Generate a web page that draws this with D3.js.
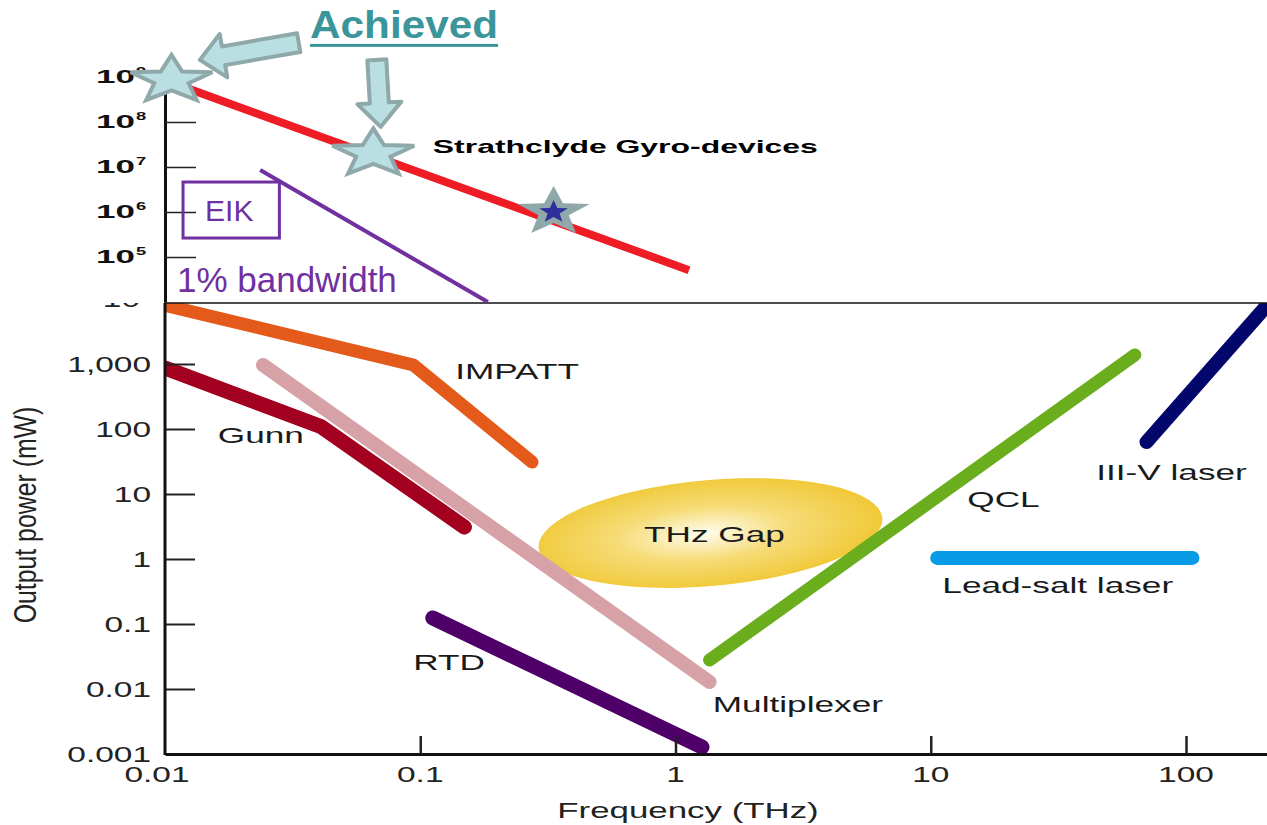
<!DOCTYPE html>
<html>
<head>
<meta charset="utf-8">
<script src="https://cdn.jsdelivr.net/npm/d3@7"></script>
<style>
  body { margin: 0; background: #fff; }
  svg { display: block; }
  text { font-family: "Liberation Sans", Arial, sans-serif; }
</style>
</head>
<body>
<svg id="chart" width="1267" height="825"></svg>
<script>
// ---- lower panel (output power, mW) ----
const xTickValues = [0.01, 0.1, 1, 10, 100];
const xTickLabels = ["0.01", "0.1", "1", "10", "100"];
const yTickValues = [0.001, 0.01, 0.1, 1, 10, 100, 1000, 10000];
const yTickLabels = ["0.001", "0.01", "0.1", "1", "10", "100", "1,000", "10"];
const yTickSups = ["", "", "", "", "", "", "", "4"];

const impatt = [[0.01, 8000], [0.094, 966], [0.274, 31]];
const gunn = [[0.01, 870], [0.041, 108], [0.149, 3.1]];
const multiplexer = [[0.0242, 966], [1.36, 0.0128]];
const rtd = [[0.112, 0.124], [1.27, 0.00128]];
const qcl = [[1.36, 0.0279], [63, 1380]];
const iiiV = [[70, 63], [230, 12600]];
const leadSalt = [[10.6, 1.04], [106, 1.04]];

const thzGapF = [0.289, 6.5];
const thzGapP = [0.358, 17.6];

const deviceLabels = [
  ["IMPATT", 0.137, 590],
  ["Gunn", 0.0161, 61],
  ["QCL", 13.9, 6.3],
  ["III-V laser", 44.5, 16.4],
  ["Lead-salt laser", 11.1, 0.3],
  ["RTD", 0.0938, 0.0196],
  ["Multiplexer", 1.4, 0.00443]
];

// ---- upper panel (gyro-devices) ----
const gyroTickValues = [1e5, 1e6, 1e7, 1e8, 1e9];
const gyroTickExps = ["5", "6", "7", "8", "9"];
const gyroLine = [[0.0107, 7.4e8], [1.13, 5.1e4]];
const eikLine = [[0.0236, 8.6e6], [0.184, 1e4]];
const achieved = [[0.0106, 8.6e8], [0.0655, 2.0e7], [0.333, 1.0e6]];
const achievedArrows = [
  [[0.0334, 5.8e9], [0.0137, 2.4e9]],
  [[0.0676, 2.4e9], [0.070, 7.8e7]]
];

const svg = d3.select("#chart");
const W = 1267, H = 825;
const divY = 303;

const x = d3.scaleLog().domain([0.01, 100]).range([165, 1186]);
const yLow = d3.scaleLog().domain([0.001, 10000]).range([754, 299]);
const yHigh = d3.scaleLog().domain([1e4, 1e9]).range([302, 77]);

const line = (ys) => d3.line().x(d => x(d[0])).y(d => ys(d[1]));

// stretched text helper (the source picture is widened horizontally)
function sText(g, str, px, py, o = {}) {
  return g.append("text")
    .attr("transform", `translate(${px},${py}) scale(${o.sx || 1},${o.sy || 1})`)
    .attr("text-anchor", o.anchor || "start")
    .attr("font-size", o.size || 22)
    .attr("font-weight", o.weight || "normal")
    .attr("fill", o.fill || "#1a1a1a")
    .text(str);
}

svg.append("rect").attr("width", W).attr("height", H).attr("fill", "#fff");

// ---------- lower panel ----------
const low = svg.append("g");
low.append("clipPath").attr("id", "clipLow")
  .append("rect").attr("x", 165).attr("y", divY).attr("width", W - 165).attr("height", 754 - divY);

// THz gap ellipse
const grad = svg.append("defs").append("radialGradient").attr("id", "gapGrad")
  .attr("cx", "48%").attr("cy", "50%").attr("r", "55%");
grad.append("stop").attr("offset", "0%").attr("stop-color", "#fffdf0");
grad.append("stop").attr("offset", "45%").attr("stop-color", "#f6dc78");
grad.append("stop").attr("offset", "100%").attr("stop-color", "#f0c630");

const gx0 = x(thzGapF[0]), gx1 = x(thzGapF[1]);
const gy0 = yLow(thzGapP[1]), gy1 = yLow(thzGapP[0]);
const gcx = (gx0 + gx1) / 2, gcy = (gy0 + gy1) / 2;
low.append("ellipse")
  .attr("cx", gcx).attr("cy", gcy)
  .attr("rx", (gx1 - gx0) / 2).attr("ry", (gy1 - gy0) / 2 - 2)
  .attr("transform", `rotate(-5,${gcx},${gcy})`)
  .attr("fill", "url(#gapGrad)");
sText(low, "THz Gap", gcx + 4, gcy + 9, { anchor: "middle", sx: 1.6 });

const devices = [
  { pts: multiplexer, color: "#d6a1a7", w: 14 },
  { pts: impatt, color: "#e35a1b", w: 13 },
  { pts: gunn, color: "#a3001f", w: 15 },
  { pts: rtd, color: "#4e0068", w: 15 },
  { pts: qcl, color: "#6aad1d", w: 13 },
  { pts: iiiV, color: "#03066a", w: 14 },
  { pts: leadSalt, color: "#0a9be6", w: 14 }
];
low.append("g").attr("clip-path", "url(#clipLow)")
  .selectAll("path").data(devices).join("path")
  .attr("d", d => line(yLow)(d.pts))
  .attr("fill", "none")
  .attr("stroke", d => d.color)
  .attr("stroke-width", d => d.w)
  .attr("stroke-linecap", "round")
  .attr("stroke-linejoin", "round");

deviceLabels.forEach(([t, f, p]) => sText(low, t, x(f), yLow(p), { sx: 1.6 }));

// axes
const yAxisG = low.append("g").attr("transform", "translate(165,0)")
  .call(d3.axisRight(yLow).tickValues(yTickValues.slice(1, 7)).tickSize(30).tickSizeOuter(0).tickFormat(""));
yAxisG.select(".domain").remove();
yAxisG.selectAll("line").attr("stroke", "#222").attr("stroke-width", 2);
low.append("line").attr("x1", 165).attr("x2", 165).attr("y1", divY).attr("y2", 755)
  .attr("stroke", "#111").attr("stroke-width", 3);

yTickValues.forEach((v, i) => {
  const t = sText(low, yTickLabels[i], 151, yLow(v) + 8, { anchor: "end", sx: 1.52, fill: "#222" });
  if (yTickSups[i]) t.append("tspan").attr("font-size", 13).attr("dy", -9).text(yTickSups[i]);
});

const xAxisScale = x.copy().domain([0.01, x.invert(W)]).range([165, W]);
const xAxisG = low.append("g").attr("transform", "translate(0,754)")
  .call(d3.axisTop(xAxisScale).tickValues(xTickValues.slice(1)).tickSize(18).tickSizeOuter(0).tickFormat(""));
xAxisG.select(".domain").attr("stroke", "#111").attr("stroke-width", 3);
xAxisG.selectAll("line").attr("stroke", "#222").attr("stroke-width", 2.5);

xTickValues.forEach((v, i) => sText(low, xTickLabels[i], x(v) - (i === 0 ? 8 : 0), 782,
  { anchor: "middle", sx: 1.52, fill: "#222" }));

sText(low, "Frequency (THz)", 688, 818, { anchor: "middle", sx: 1.55, size: 22.5, fill: "#222" });
low.append("text")
  .attr("transform", "translate(36,515) rotate(-90) scale(1.08,1.4)")
  .attr("text-anchor", "middle").attr("font-size", 23).attr("fill", "#222")
  .text("Output power (mW)");

// ---------- upper panel ----------
const up = svg.append("g");
up.append("rect").attr("width", W).attr("height", divY).attr("fill", "#fff");
up.append("clipPath").attr("id", "clipUp")
  .append("rect").attr("x", 0).attr("y", 0).attr("width", W).attr("height", divY);

up.append("line").attr("x1", 164).attr("x2", W).attr("y1", divY).attr("y2", divY)
  .attr("stroke", "#111").attr("stroke-width", 1.5);

const gAxisG = up.append("g").attr("transform", "translate(165,0)")
  .call(d3.axisRight(yHigh).tickValues(gyroTickValues).tickSize(31).tickSizeOuter(0).tickFormat(""));
gAxisG.select(".domain").attr("stroke", "#111").attr("stroke-width", 3);
gAxisG.selectAll("line").attr("stroke", "#222").attr("stroke-width", 1.5);

gyroTickValues.forEach((v, i) => {
  sText(up, "10", 135, yHigh(v) + 6, { anchor: "end", sx: 2.0, size: 17.5, weight: "bold", fill: "#111" });
  sText(up, gyroTickExps[i], 136, yHigh(v) - 2, { sx: 1.6, size: 11.5, weight: "bold", fill: "#111" });
});

const upPlot = up.append("g").attr("clip-path", "url(#clipUp)");
upPlot.append("path").attr("d", line(yHigh)(eikLine))
  .attr("fill", "none").attr("stroke", "#7030a0").attr("stroke-width", 4);
upPlot.append("path").attr("d", line(yHigh)(gyroLine))
  .attr("fill", "none").attr("stroke", "#ee1c25").attr("stroke-width", 8);

// EIK box and label
const eik = up.append("text")
  .attr("x", x(0.01435)).attr("y", yHigh(6.3e5))
  .attr("font-size", 30).attr("fill", "#7030a0").text("EIK");
const eb = eik.node().getBBox();
up.append("rect")
  .attr("x", eb.x - 22).attr("y", eb.y - 12)
  .attr("width", eb.width + 48).attr("height", eb.height + 23)
  .attr("fill", "none").attr("stroke", "#7030a0").attr("stroke-width", 3);
up.append("text").attr("x", x(0.01114)).attr("y", yHigh(1.67e4))
  .attr("font-size", 35).attr("fill", "#7030a0").text("1% bandwidth");

up.append("text").attr("x", x(0.112)).attr("y", yHigh(2.05e7))
  .attr("font-size", 19).attr("font-weight", "bold").attr("fill", "#000")
  .attr("textLength", 385).attr("lengthAdjust", "spacingAndGlyphs")
  .text("Strathclyde Gyro-devices");

// stars
function starPath(rx, ry, k) {
  const pts = d3.range(10).map(i => {
    const a = -Math.PI / 2 + i * Math.PI / 5;
    const r = i % 2 ? k : 1;
    return [rx * r * Math.cos(a), ry * r * Math.sin(a)];
  });
  return "M" + pts.join("L") + "Z";
}
achieved.forEach((d, i) => {
  const g = up.append("g").attr("transform", `translate(${x(d[0])},${yHigh(d[1])})`);
  if (i < 2) {
    g.append("path").attr("d", starPath(43, 25, 0.42))
      .attr("fill", "#b9dfe3").attr("stroke", "#8fa8a9").attr("stroke-width", 4)
      .attr("stroke-linejoin", "miter");
  } else {
    g.append("path").attr("d", starPath(38, 26, 0.42)).attr("fill", "#8fa8a9");
    g.append("path").attr("d", starPath(15, 12, 0.42)).attr("fill", "#2f2f9c");
  }
});

// block arrows
function blockArrow(p0, p1, sw, hw, hl) {
  const [x0, y0] = p0, [x1, y1] = p1;
  const L = Math.hypot(x1 - x0, y1 - y0);
  const ux = (x1 - x0) / L, uy = (y1 - y0) / L, nx = -uy, ny = ux;
  const bx = x1 - ux * hl, by = y1 - uy * hl;
  const pts = [
    [x0 + nx * sw / 2, y0 + ny * sw / 2], [bx + nx * sw / 2, by + ny * sw / 2],
    [bx + nx * hw / 2, by + ny * hw / 2], [x1, y1],
    [bx - nx * hw / 2, by - ny * hw / 2], [bx - nx * sw / 2, by - ny * sw / 2],
    [x0 - nx * sw / 2, y0 - ny * sw / 2]
  ];
  return "M" + pts.join("L") + "Z";
}
achievedArrows.forEach(([a, b]) => {
  up.append("path")
    .attr("d", blockArrow([x(a[0]), yHigh(a[1])], [x(b[0]), yHigh(b[1])], 19, 44, 24))
    .attr("fill", "#b9dfe3").attr("stroke", "#8fa8a9").attr("stroke-width", 4)
    .attr("stroke-linejoin", "round");
});

up.append("text").attr("x", x(0.037)).attr("y", yHigh(7.4e9))
  .attr("font-size", 38).attr("font-weight", "bold").attr("fill", "#3b959b")
  .attr("textLength", 188).attr("lengthAdjust", "spacingAndGlyphs")
  .text("Achieved");
up.append("rect").attr("x", x(0.037)).attr("y", yHigh(7.4e9) + 6)
  .attr("width", 188).attr("height", 3).attr("fill", "#3b959b");
</script>
</body>
</html>
